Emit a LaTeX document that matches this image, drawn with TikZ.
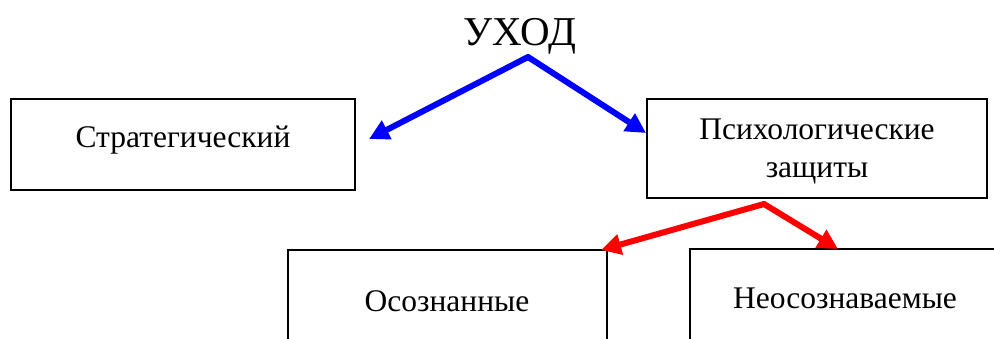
\documentclass[tikz,border=0pt]{standalone}
\usepackage{fontspec}
\setmainfont{Liberation Serif}
\usetikzlibrary{arrows.meta}
\begin{document}
\begin{tikzpicture}[x=1pt,y=-1pt,
  box/.style={draw=black,line width=2pt,rectangle,anchor=north west,inner sep=0pt,outer sep=0pt},
  lbl/.style={anchor=base,inner sep=0pt,font=\fontsize{31.5}{38}\selectfont},
  bluearrow/.style={draw={rgb,255:red,0;green,0;blue,255},fill={rgb,255:red,0;green,0;blue,255},line width=6pt,line cap=round,-{Triangle[length=20pt,width=20pt]}},
  redarrow/.style={draw={rgb,255:red,255;green,0;blue,0},fill={rgb,255:red,255;green,0;blue,0},line width=6pt,line cap=round,-{Triangle[length=20pt,width=20pt]}}]
\clip (0,0) rectangle (994,338);
\fill[white] (0,0) rectangle (994,338);
% title
\node[anchor=base,inner sep=0pt,font=\fontsize{41}{48}\selectfont] (title) at (520,45) {УХОД};
% boxes
\node[box,minimum width=344pt,minimum height=91pt] (b1) at (11,99) {};
\node[box,minimum width=340pt,minimum height=99pt] (b2) at (647,99) {};
\node[box,minimum width=319pt,minimum height=120pt] (b3) at (288,250) {};
\node[box,minimum width=320pt,minimum height=120pt] (b4) at (690,249) {};
% labels
\node[lbl] (t1) at (183,147) {Стратегический};
\node[lbl,align=center] (t2) at (817,177) {Психологические\\защиты};
\node[lbl] (t3) at (447,311) {Осознанные};
\node[lbl] (t4) at (845,308) {Неосознаваемые};
% connector points
\coordinate (a1) at (528,57);
\coordinate (l1) at (369,139);
\coordinate (r1) at (646,133);
\coordinate (a2) at (764,204);
\coordinate (l2) at (601,250);
\coordinate (r2) at (838,249);
\draw[bluearrow] (a1) -- (l1);
\draw[bluearrow] (a1) -- (r1);
\draw[redarrow] (a2) -- (l2);
\draw[redarrow] (a2) -- (r2);
\end{tikzpicture}
\end{document}
